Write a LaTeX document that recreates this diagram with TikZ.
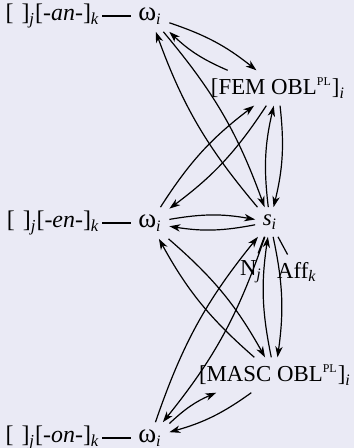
\documentclass[tikz,border=0pt]{standalone}
\usepackage{fontspec}
\setmainfont{Liberation Serif}
\usetikzlibrary{arrows.meta,positioning}
\definecolor{lavbg}{RGB}{234,234,245}
\newcommand{\isub}[1]{\textsubscript{\textit{#1}}}
\newcommand{\smallpl}{\textsuperscript{\fontsize{5.5}{6}\selectfont PL}}
\newcommand{\omg}{{\fontsize{12.5}{13}\selectfont ω}\isub{i}}

\begin{document}
\begin{tikzpicture}[>={Stealth[length=5pt,width=3.4pt,inset=1.5pt]}, x=0.46pt, y=-0.46pt,
    every node/.style={font=\fontsize{10.5}{12}\selectfont},
    stem/.style={font=\fontsize{11}{12}\selectfont, inner xsep=1pt},
    link/.style={->, line width=0.55pt, bend left=10}]
    \fill[lavbg] (0,0) rectangle (354,448);
    \useasboundingbox (0,0) rectangle (354,448);
    % word forms
    \node (w1) at (150,16) {\omg};
    \node (w2) at (150,223) {\omg};
    \node (w3) at (150,438) {\omg};
    \node[stem, left=13pt of w1] (an) {[\,\,]\isub{j}[\textit{-an-}]\isub{k}};
    \node[stem, left=13pt of w2] (en) {[\,\,]\isub{j}[\textit{-en-}]\isub{k}};
    \node[stem, left=13pt of w3] (on) {[\,\,]\isub{j}[\textit{-on-}]\isub{k}};
    % paradigm cells
    \node (fem) at (278,88) {[FEM OBL\smallpl]\isub{i}};
    \node (s) at (270,222) {\textit{s}\isub{i}};
    \node (masc) at (275,375) {[MASC OBL\smallpl]\isub{i}};
    \node (n) at (251,272) {N\isub{j}};
    \node (aff) at (297,272) {Aff\isub{k}};
    % plain links
    \draw[line width=0.55pt] (an) -- (w1);
    \draw[line width=0.55pt] (en) -- (w2);
    \draw[line width=0.55pt] (on) -- (w3);
    \draw[line width=0.55pt] (s) -- (n);
    \draw[line width=0.55pt] (s) -- (aff);
    % two-way links
    \draw[link] (w1) to (fem);
    \draw[link] (fem) to (w1);
    \draw[link] (w1) to (s);
    \draw[link] (s) to (w1);
    \draw[link] (w2) to (fem);
    \draw[link] (fem) to (w2);
    \draw[link] (w2) to (s);
    \draw[link] (s) to (w2);
    \draw[link] (w2) to (masc);
    \draw[link] (masc) to (w2);
    \draw[link] (w3) to (s);
    \draw[link] (s) to (w3);
    \draw[link] (w3) to (masc);
    \draw[link] (masc) to (w3);
    \draw[link] (fem) to (s);
    \draw[link] (s) to (fem);
    \draw[link] (s) to (masc);
    \draw[link] (masc) to (s);
\end{tikzpicture}
\end{document}
